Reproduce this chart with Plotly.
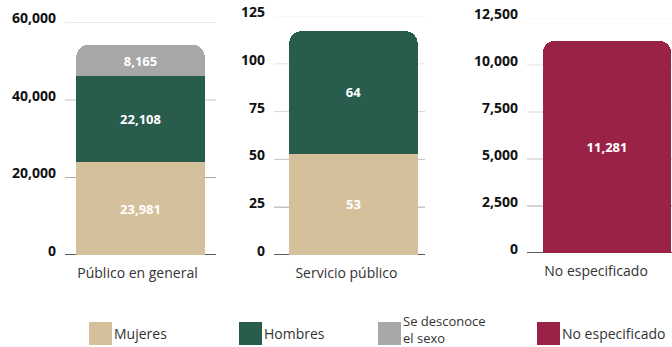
import plotly.graph_objects as go
from plotly.subplots import make_subplots

# ============================== >>> Data <<< ==============================
cat_publico = ["Público en general"]
cat_servicio = ["Servicio público"]
cat_noesp = ["No especificado"]

publico_mujeres = [23981]
publico_hombres = [22108]
publico_desconoce = [8165]

servicio_mujeres = [53]
servicio_hombres = [64]

noesp_valores = [11281]

ticks_publico = [0, 20000, 40000, 60000]
ticks_servicio = [0, 25, 50, 75, 100, 125]
ticks_noesp = [0, 2500, 5000, 7500, 10000, 12500]

legend_labels = ["Mujeres", "Hombres", "Se desconoce<br>el sexo", "No especificado"]

# ============================== >>> Style <<< ==============================
C_MUJ = "#D4C19C"
C_HOM = "#285C4D"
C_DES = "#A7A7A7"
C_NOE = "#9B2247"
FONT = "Open Sans"
W, H = 672, 347

fig = make_subplots(rows=1, cols=3)

def bar(x, y, color, col):
    fig.add_trace(go.Bar(x=x, y=y, marker=dict(color=color, line=dict(width=0)),
                         width=0.85, texttemplate="%{y:,}", textposition="inside",
                         insidetextanchor="middle", showlegend=False, hoverinfo="skip",
                         textfont=dict(color="white", size=13, family=FONT, weight="bold")),
                  row=1, col=col)

bar(cat_publico, publico_mujeres, C_MUJ, 1)
bar(cat_publico, publico_hombres, C_HOM, 1)
bar(cat_publico, publico_desconoce, C_DES, 1)
bar(cat_servicio, servicio_mujeres, C_MUJ, 2)
bar(cat_servicio, servicio_hombres, C_HOM, 2)
bar(cat_noesp, noesp_valores, C_NOE, 3)

# panel geometry in pixels
x_dom = [(65, 216), (274, 425), (527, 672)]
x_rng = [[-0.5, 0.5], [-0.526, 0.474], [-0.53, 0.43]]
x_lab_shift = [-3, -7, -11]
y_dom = [(255, 22.5), (255, 16), (253, 18)]
ticks = [ticks_publico, ticks_servicio, ticks_noesp]

grid_cols = ["#f2f2f2", "#e4e4e4", "#d6d6d6", "#c4c4c4", "#a8a8a8", "#5a5a5a"]

for i in range(3):
    n = "" if i == 0 else str(i + 1)
    tv = ticks[i]
    fig.update_layout(**{
        f"xaxis{n}": dict(domain=[x_dom[i][0] / W, x_dom[i][1] / W], range=x_rng[i],
                          showgrid=False, zeroline=False, showline=False, ticks="",
                          ticklabelstandoff=8, ticklabelshift=x_lab_shift[i], automargin=False,
                          tickfont=dict(size=14, color="#333333", family=FONT)),
        f"yaxis{n}": dict(domain=[1 - y_dom[i][0] / H, 1 - y_dom[i][1] / H],
                          range=[tv[0], tv[-1]], tickvals=tv, showgrid=False,
                          zeroline=False, showline=False, ticks="", tickformat=",",
                          ticklabelstandoff=8, ticklabelshift=-4, automargin=False,
                          tickfont=dict(size=14, color="#111111", family=FONT, weight="bold")),
    })
    k = len(tv)
    for j, v in enumerate(tv):
        col = grid_cols[len(grid_cols) - k + (k - 1 - j)] if j > 0 else grid_cols[-1]
        fig.add_shape(type="line", xref=f"x{n} domain", yref=f"y{n}", x0=0, x1=1, y0=v, y1=v,
                      line=dict(color=col, width=2 if j == 0 else 1), layer="below")

# legend drawn by hand with large squares
leg_x = [89, 239, 378, 537]
leg_c = [C_MUJ, C_HOM, C_DES, C_NOE]
for lx, lc, lt in zip(leg_x, leg_c, legend_labels):
    fig.add_shape(type="rect", xref="paper", yref="paper", x0=lx / W, x1=(lx + 23) / W,
                  y0=1 - 345 / H, y1=1 - 322 / H, fillcolor=lc, line=dict(width=0))
    two = "<br>" in lt
    fig.add_annotation(xref="paper", yref="paper", x=(lx + 24) / W,
                       y=1 - (329 if two else 333) / H, borderpad=0,
                       text=lt, showarrow=False, xanchor="left", yanchor="middle", align="left",
                       font=dict(size=13 if two else 14, color="#333333", family=FONT))

fig.update_layout(width=W, height=H, margin=dict(l=0, r=0, t=0, b=0, autoexpand=False),
                  barmode="stack", barcornerradius=12,
                  plot_bgcolor="white", paper_bgcolor="white", showlegend=False)

fig.write_html("out.html", config={"displayModeBar": False},
               post_script="document.body.style.margin='0';document.body.style.overflow='hidden';")
